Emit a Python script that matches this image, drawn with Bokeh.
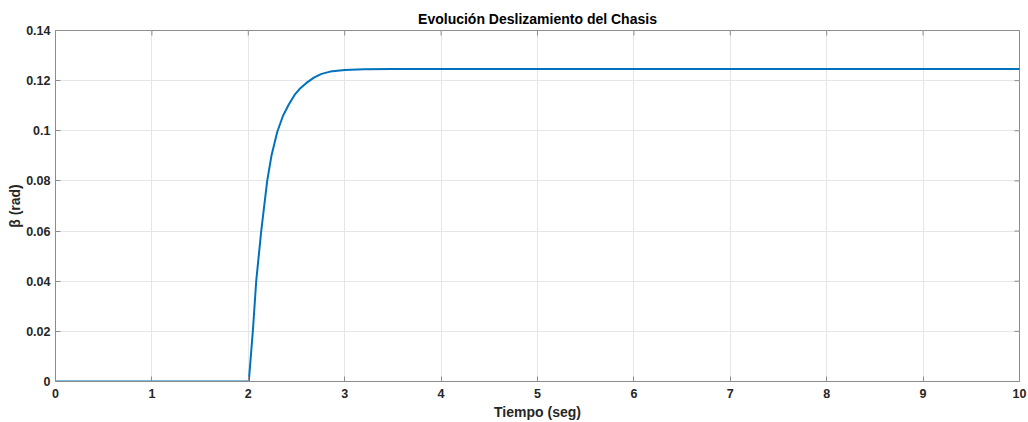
import math
from bokeh.plotting import figure
from bokeh.models import Range1d, FixedTicker, Title
from bokeh.embed import file_html
from bokeh.resources import INLINE

# Data
tiempo = [0, 2.0, 2.005, 2.047, 2.082, 2.134, 2.196, 2.24, 2.30, 2.36, 2.42, 2.48,
          2.54, 2.60, 2.68, 2.76, 2.85, 3.0, 3.2, 3.5, 4.0, 6.0, 8.0, 10.0]
beta = [0, 0, 0, 0.020, 0.040, 0.060, 0.080, 0.0900, 0.0995, 0.1060, 0.1105, 0.1143,
        0.1170, 0.1190, 0.1212, 0.1227, 0.1236, 0.1242, 0.1245, 0.1246, 0.1246,
        0.1246, 0.1246, 0.1246]
x_ticks = [0, 1, 2, 3, 4, 5, 6, 7, 8, 9, 10]
y_ticks = [0, 0.02, 0.04, 0.06, 0.08, 0.1, 0.12, 0.14]
y_tick_labels = {0: "0", 0.02: "0.02", 0.04: "0.04", 0.06: "0.06", 0.08: "0.08",
                 0.1: "0.1", 0.12: "0.12", 0.14: "0.14"}
x_min, x_max = 0, 10
y_min, y_max = 0, 0.14

FONT = "Liberation Sans"
AX = "#8c8c8c"
TXT = "#262626"

p = figure(width=1028, height=422, output_backend="svg", toolbar_location=None,
           x_range=Range1d(x_min, x_max), y_range=Range1d(y_min, y_max),
           min_border_left=55, min_border_right=9, min_border_top=30, min_border_bottom=41)
p.add_layout(Title(text="Evolución Deslizamiento del Chasis", align="center",
                   text_font=FONT, text_font_size="14px", text_font_style="bold",
                   text_color="#000000", offset=0, standoff=7), "above")

p.line(tiempo, beta, line_color="#0072BD", line_width=2)

for ax in (p.xaxis[0], p.yaxis[0]):
    ax.axis_line_color = AX
    ax.major_tick_line_color = AX
    ax.major_tick_in = 5
    ax.major_tick_out = 0
    ax.minor_tick_line_color = None
    ax.major_label_text_font = FONT
    ax.major_label_text_font_size = "12.5px"
    ax.major_label_text_font_style = "bold"
    ax.major_label_text_color = TXT
    ax.axis_label_text_font = FONT
    ax.axis_label_text_font_size = "14px"
    ax.axis_label_text_font_style = "bold"
    ax.axis_label_text_color = TXT

p.xaxis[0].ticker = FixedTicker(ticks=x_ticks)
p.yaxis[0].ticker = FixedTicker(ticks=y_ticks)
p.yaxis[0].major_label_overrides = y_tick_labels
p.xaxis[0].axis_label = "Tiempo (seg)"
p.yaxis[0].axis_label = "β (rad)"
p.xaxis[0].major_label_standoff = 7
p.xaxis[0].axis_label_standoff = 3
p.yaxis[0].major_label_standoff = 5
p.yaxis[0].axis_label_standoff = 0

# mirrored inward ticks on top and right edges (half of each dash is clipped by the frame)
p.scatter(x_ticks, [y_max] * len(x_ticks), marker="dash", size=10, angle=math.pi / 2,
          line_color=AX, line_width=1)
p.scatter([x_max] * len(y_ticks), y_ticks, marker="dash", size=10,
          line_color=AX, line_width=1)

p.xgrid.ticker = FixedTicker(ticks=x_ticks)
p.ygrid.ticker = FixedTicker(ticks=y_ticks)
p.grid.grid_line_color = "#e6e6e6"
p.grid.grid_line_width = 1
p.outline_line_color = AX
p.outline_line_width = 1
p.background_fill_color = "white"
p.border_fill_color = "white"

open("out.html", "w").write(file_html(p, INLINE))
